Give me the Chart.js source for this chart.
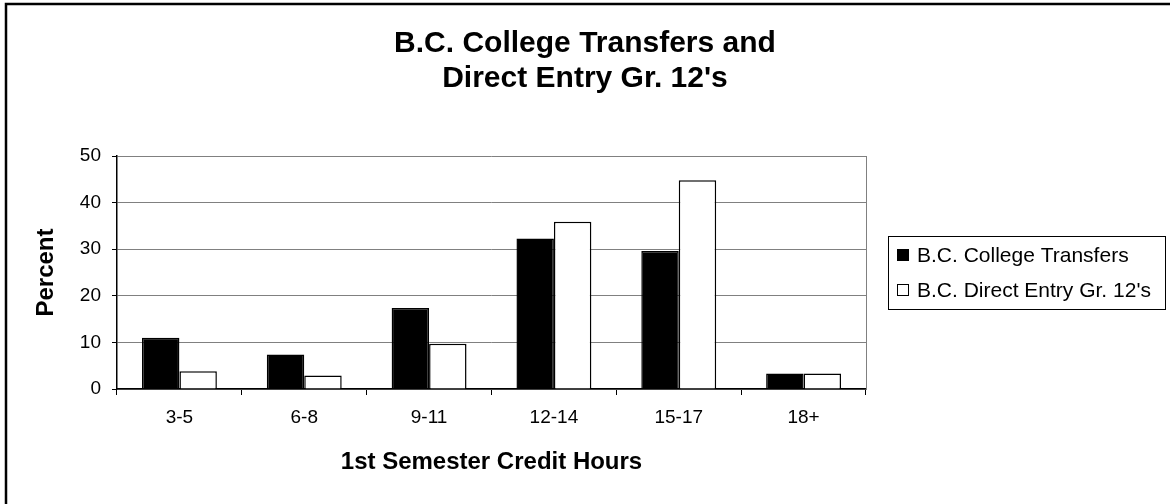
<!DOCTYPE html>
<html>
<head>
<meta charset="utf-8">
<script src="https://cdn.jsdelivr.net/npm/chart.js@4.4.0/dist/chart.umd.min.js"></script>
<style>
  html, body { margin: 0; background: #fff; }
  #wrap { width: 1170px; height: 504px; position: relative; }
</style>
</head>
<body>
<div id="wrap"><canvas id="chart"></canvas></div>
<script>
// --- data ---
const categories = ['3-5', '6-8', '9-11', '12-14', '15-17', '18+'];
const collegeTransfers = [11.0, 7.4, 17.4, 32.3, 29.6, 3.3];
const directEntry = [3.8, 2.9, 9.7, 35.9, 44.8, 3.3];
const yTicks = [0, 10, 20, 30, 40, 50];

const FONT = "'Liberation Sans', Arial, sans-serif";
Chart.defaults.font.family = FONT;
Chart.defaults.color = '#000';

// black frame round the whole picture (right/bottom edges fall outside)
const outerFrame = {
  id: 'outerFrame',
  afterDraw(chart) {
    const { ctx } = chart;
    ctx.save();
    ctx.strokeStyle = '#000';
    ctx.lineWidth = 2.5;
    ctx.strokeRect(6, 4, chart.width + 20, chart.height + 20);
    ctx.restore();
  },
};

// grey right edge of the plot area
const plotEdge = {
  id: 'plotEdge',
  beforeDatasetsDraw(chart) {
    const { ctx, chartArea: a } = chart;
    ctx.save();
    ctx.strokeStyle = '#808080';
    ctx.lineWidth = 1;
    ctx.beginPath();
    ctx.moveTo(a.right + 0.5, a.top);
    ctx.lineTo(a.right + 0.5, a.bottom);
    ctx.stroke();
    ctx.restore();
  },
};

// boxed legend to the right of the plot, built from the datasets
const boxedLegend = {
  id: 'boxedLegend',
  afterDraw(chart) {
    const { ctx, chartArea: a } = chart;
    const x0 = a.right + 22, w = 277, h = 73;
    const y0 = Math.round((a.top + a.bottom) / 2) - 37;
    ctx.save();
    ctx.strokeStyle = '#000';
    ctx.lineWidth = 1;
    ctx.strokeRect(x0 + 0.5, y0 + 0.5, w, h);
    ctx.font = `21px ${FONT}`;
    ctx.textBaseline = 'middle';
    ctx.textAlign = 'left';
    chart.data.datasets.forEach((ds, i) => {
      const cy = y0 + 19 + i * 35;
      ctx.fillStyle = ds.backgroundColor;
      ctx.fillRect(x0 + 9, cy - 6, 12, 12);
      ctx.strokeStyle = '#000';
      ctx.lineWidth = 1;
      ctx.strokeRect(x0 + 9.5, cy - 5.5, 11, 11);
      ctx.fillStyle = '#000';
      ctx.fillText(ds.label, x0 + 29, cy + 1);
    });
    ctx.restore();
  },
};

new Chart(document.getElementById('chart'), {
  type: 'bar',
  data: {
    labels: categories,
    datasets: [
      { label: 'B.C. College Transfers', data: collegeTransfers,
        backgroundColor: '#000', borderColor: '#000', borderWidth: 1.5 },
      { label: "B.C. Direct Entry Gr. 12's", data: directEntry,
        backgroundColor: '#fff', borderColor: '#000', borderWidth: 1.5 },
    ],
  },
  options: {
    responsive: true,
    maintainAspectRatio: false,
    animation: false,
    layout: { padding: 0 },
    categoryPercentage: 0.6,
    barPercentage: 1.0,
    plugins: {
      legend: { display: false },
      tooltip: { enabled: false },
      title: {
        display: true,
        text: ['B.C. College Transfers and', "Direct Entry Gr. 12's"],
        font: { size: 30, weight: 'bold', lineHeight: 35 / 30 },
        color: '#000',
        padding: { top: 26, bottom: 60 },
      },
    },
    scales: {
      x: {
        afterFit: s => { s.height = 115; },
        ticks: { font: { size: 19 }, color: '#000', padding: 11 },
        grid: { drawOnChartArea: false, drawTicks: true, tickLength: 6, color: '#000' },
        border: { color: '#000', width: 1.5 },
        title: { display: true, text: '1st Semester Credit Hours',
                 font: { size: 24, weight: 'bold' }, color: '#000', padding: { top: 0, bottom: 27 } },
      },
      y: {
        min: 0,
        max: 50,
        afterBuildTicks: s => { s.ticks = yTicks.map(v => ({ value: v })); },
        afterFit: s => { s.width = 117; },
        ticks: { font: { size: 19 }, color: '#000', padding: 11 },
        grid: { color: '#808080', lineWidth: 1, tickLength: 5, tickColor: '#000' },
        border: { color: '#000', width: 1.5 },
        title: { display: true, text: 'Percent',
                 font: { size: 24, weight: 'bold' }, color: '#000', padding: { top: 32, bottom: 0 } },
      },
      yRight: {
        position: 'right',
        afterFit: s => { s.width = 304; },
        grid: { display: false },
        ticks: { display: false },
        border: { display: false },
      },
    },
  },
  plugins: [plotEdge, boxedLegend, outerFrame],
});
</script>
</body>
</html>
